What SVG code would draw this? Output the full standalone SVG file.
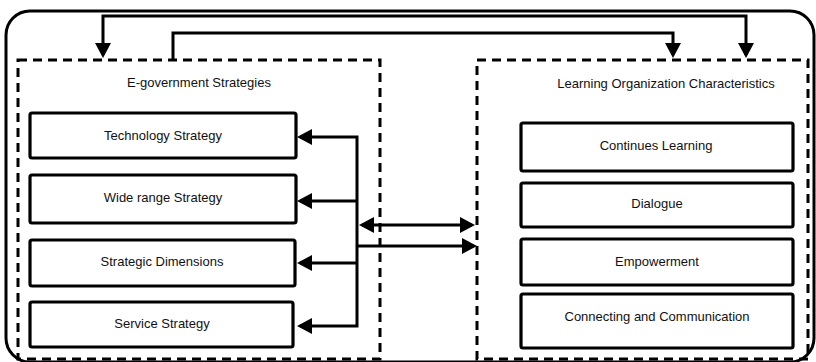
<svg xmlns="http://www.w3.org/2000/svg" width="816" height="362" viewBox="0 0 816 362">
<style>
.outer{fill:none;stroke:#000;stroke-width:3}
.group{fill:none;stroke:#000;stroke-width:3;stroke-dasharray:9 6}
.box{fill:#fff;stroke:#000;stroke-width:3.2}
.lbl{font-family:"Liberation Sans",Arial,sans-serif;font-size:13px;fill:#111;text-anchor:middle}
.conn{fill:none;stroke:#000;stroke-width:3;stroke-linejoin:miter}
</style>
<defs>
<marker id="ah" viewBox="0 0 15 16" refX="12" refY="8" markerWidth="15" markerHeight="16" markerUnits="userSpaceOnUse" orient="auto-start-reverse">
<path d="M0,0 L15,8 L0,16 z" fill="#000"/>
</marker>
</defs>
<rect class="outer" x="6" y="11" width="808" height="351" rx="24" ry="24"/>
<g id="egov">
<rect class="group" x="18" y="60" width="362" height="299"/>
<text class="lbl" x="199" y="87">E-government Strategies</text>
</g>
<g id="loc">
<rect class="group" x="477" y="60" width="331" height="299"/>
<text class="lbl" x="666" y="88">Learning Organization Characteristics</text>
</g>
<g id="tech">
<rect class="box" x="30" y="113" width="266" height="45" rx="2"/>
<text class="lbl" x="163" y="140">Technology Strategy</text>
</g>
<g id="wide">
<rect class="box" x="30" y="175" width="266" height="48" rx="2"/>
<text class="lbl" x="163" y="202">Wide range Strategy</text>
</g>
<g id="dims">
<rect class="box" x="30" y="240" width="265" height="46" rx="2"/>
<text class="lbl" x="162" y="266">Strategic Dimensions</text>
</g>
<g id="service">
<rect class="box" x="30" y="302" width="263" height="45" rx="2"/>
<text class="lbl" x="162" y="328">Service Strategy</text>
</g>
<g id="cont">
<rect class="box" x="521" y="123" width="272" height="48" rx="2"/>
<text class="lbl" x="656" y="150">Continues Learning</text>
</g>
<g id="dialogue">
<rect class="box" x="521" y="183" width="272" height="44" rx="2"/>
<text class="lbl" x="657" y="208">Dialogue</text>
</g>
<g id="empower">
<rect class="box" x="521" y="239" width="272" height="46" rx="2"/>
<text class="lbl" x="657" y="266">Empowerment</text>
</g>
<g id="connect">
<rect class="box" x="521" y="294" width="272" height="54" rx="2"/>
<text class="lbl" x="657" y="321">Connecting and Communication</text>
</g>
<g id="connectors">
<path class="conn" d="M103,55 V16 H746 V55" marker-start="url(#ah)" marker-end="url(#ah)"/>
<path class="conn" d="M173,59 V33 H673 V55" marker-end="url(#ah)"/>
<path class="conn" d="M300,137 H357 V326 H300" marker-start="url(#ah)" marker-end="url(#ah)"/>
<path class="conn" d="M357,201 H300" marker-end="url(#ah)"/>
<path class="conn" d="M357,263 H300" marker-end="url(#ah)"/>
<path class="conn" d="M362,225 H472" marker-start="url(#ah)" marker-end="url(#ah)"/>
<path class="conn" d="M357,246 H474" marker-end="url(#ah)"/>
</g>
</svg>
